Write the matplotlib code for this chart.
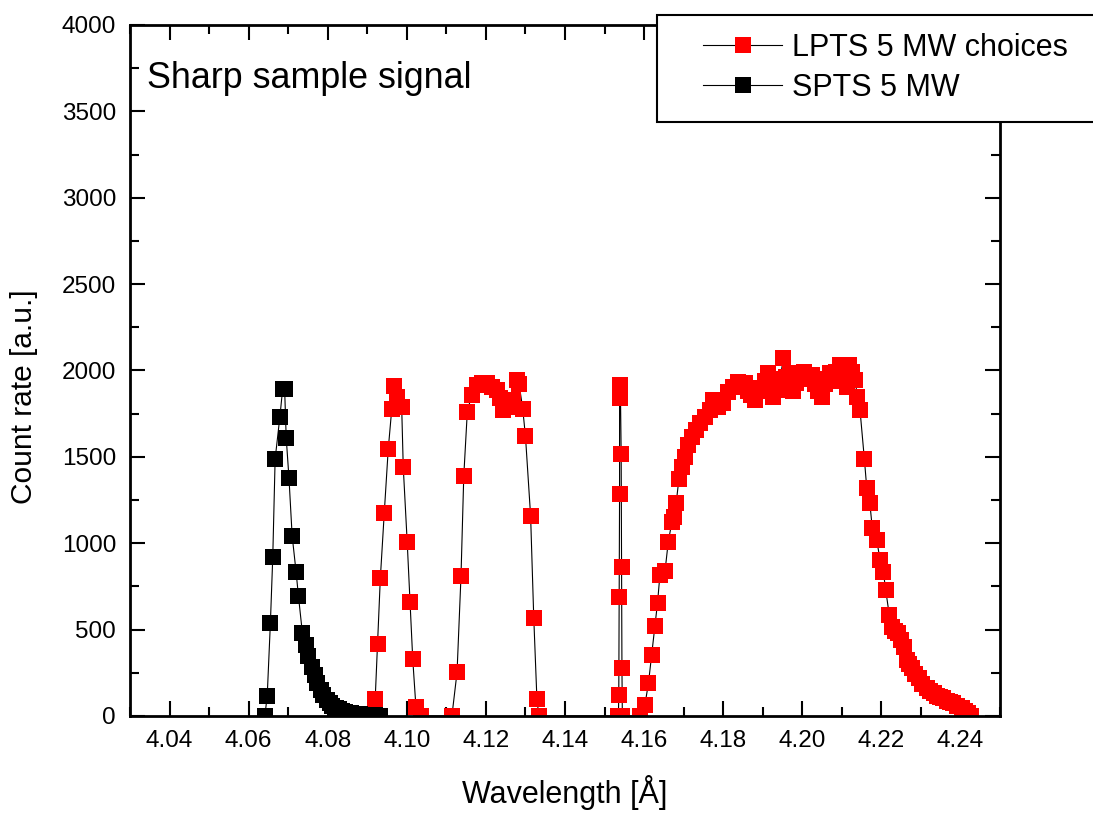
import matplotlib
matplotlib.use('Agg')
import matplotlib.pyplot as plt
from matplotlib.patches import Rectangle
from matplotlib.ticker import MultipleLocator, FormatStrFormatter

plt.rcParams['font.family'] = ['Liberation Sans', 'DejaVu Sans']

# LPTS 5 MW choices (red)
lpts_wl = [4.0920, 4.0926, 4.0933, 4.0943, 4.0953, 4.0962, 4.0967, 4.0974, 4.0987, 4.0991,
           4.1001, 4.1008, 4.1015, 4.1023, 4.1035,
           4.1114, 4.1127, 4.1137, 4.1144, 4.1153, 4.1164, 4.1177, 4.1189, 4.1202, 4.1215,
           4.1227, 4.1236, 4.1244, 4.1257, 4.1269, 4.1278, 4.1284, 4.1293, 4.1300, 4.1313,
           4.1321, 4.1329, 4.1334,
           4.1535, 4.1536, 4.1537, 4.1538, 4.1538, 4.1540, 4.1542, 4.1543, 4.1544, 4.1545,
           4.1590, 4.1602, 4.1611, 4.1619, 4.1627, 4.1634, 4.1640, 4.1653, 4.1661, 4.1670,
           4.1676, 4.1681, 4.1688, 4.1695, 4.1704, 4.1712, 4.1721, 4.1731, 4.1742, 4.1754,
           4.1767, 4.1775, 4.1788, 4.1800, 4.1813, 4.1826, 4.1838, 4.1855, 4.1863, 4.1870,
           4.1881, 4.1888, 4.1896, 4.1906, 4.1914, 4.1921, 4.1927, 4.1936, 4.1944, 4.1952,
           4.1960, 4.1969, 4.1977, 4.1985, 4.1994, 4.2005, 4.2015, 4.2024, 4.2032, 4.2040,
           4.2049, 4.2058, 4.2065, 4.2070, 4.2078, 4.2085, 4.2096, 4.2103, 4.2113, 4.2119,
           4.2126, 4.2134, 4.2139, 4.2146, 4.2157, 4.2163, 4.2171, 4.2177, 4.2188, 4.2197,
           4.2205, 4.2211, 4.2220, 4.2226, 4.2235, 4.2243, 4.2250, 4.2256, 4.2264, 4.2270,
           4.2277, 4.2285, 4.2294, 4.2303, 4.2315, 4.2323, 4.2332, 4.2341, 4.2348, 4.2357,
           4.2366, 4.2374, 4.2382, 4.2391, 4.2403, 4.2411, 4.2420, 4.2426]
lpts_counts = [97, 417, 797, 1177, 1544, 1779, 1910, 1845, 1790, 1440,
               1005, 662, 328, 54, 0,
               0, 253, 810, 1389, 1762, 1858, 1916, 1926, 1926, 1906,
               1887, 1839, 1771, 1790, 1829, 1945, 1920, 1780, 1620, 1160,
               569, 97, 0,
               0, 122, 691, 1285, 1839, 1916, 1517, 864, 276, 0,
               0, 64, 189, 353, 521, 656, 816, 841, 1005, 1121,
               1154, 1231, 1370, 1443, 1501, 1569, 1617, 1656, 1694, 1733,
               1771, 1829, 1790, 1810, 1877, 1906, 1935, 1926, 1880, 1860,
               1829, 1880, 1900, 1940, 1984, 1900, 1848, 1890, 1950, 2070,
               1960, 1984, 1880, 1930, 1960, 1990, 1950, 1974, 1920, 1880,
               1848, 1920, 1950, 1984, 1940, 1990, 2032, 1960, 1906, 2030,
               1990, 1945, 1848, 1771, 1488, 1322, 1231, 1087, 1019, 903,
               835, 729, 585, 517, 490, 479, 440, 401, 324, 300,
               276, 245, 218, 185, 160, 145, 131, 118, 108, 102,
               88, 80, 73, 60, 45, 30, 16, 0]

# SPTS 5 MW (black)
spts_wl = [4.0641, 4.0647, 4.0655, 4.0661, 4.0667, 4.0679, 4.0686, 4.0691, 4.0695, 4.0702,
           4.0710, 4.0720, 4.0726, 4.0736, 4.0744, 4.0751, 4.0759, 4.0767, 4.0774, 4.0782,
           4.0789, 4.0797, 4.0805, 4.0812, 4.0820, 4.0828, 4.0835, 4.0843, 4.0850, 4.0858,
           4.0866, 4.0873, 4.0881, 4.0888, 4.0896, 4.0904, 4.0911, 4.0919, 4.0926, 4.0932]
spts_counts = [0, 117, 538, 919, 1488, 1731, 1893, 1893, 1611, 1378,
               1044, 834, 693, 479, 410, 345, 285, 235, 190, 150,
               120, 95, 75, 60, 48, 38, 30, 25, 20, 16,
               13, 11, 9, 7, 6, 5, 4, 3, 2, 1]

fig = plt.figure(figsize=(10.93, 8.14), dpi=100)
ax = fig.add_axes([130/1093, 1-716/814, 870/1093, 691/814])

l1, = ax.plot(lpts_wl, lpts_counts, color='black', lw=0.8, marker='s', ms=11.5,
              mfc='#ff0000', mec='#ff0000', mew=0, label='LPTS 5 MW choices')
l2, = ax.plot(spts_wl, spts_counts, color='black', lw=0.8, marker='s', ms=11.5,
              mfc='black', mec='black', mew=0, label='SPTS 5 MW')

ax.set_xlim(4.03, 4.25)
ax.set_ylim(0, 4000)
ax.xaxis.set_major_locator(MultipleLocator(0.02))
ax.xaxis.set_minor_locator(MultipleLocator(0.01))
ax.xaxis.set_major_formatter(FormatStrFormatter('%.2f'))
ax.yaxis.set_major_locator(MultipleLocator(500))
ax.yaxis.set_minor_locator(MultipleLocator(250))
ax.tick_params(which='both', direction='in', top=True, right=True, width=1.5, labelsize=17.5)
ax.tick_params(which='major', length=10.8)
ax.tick_params(which='minor', length=6.5)
ax.tick_params(axis='x', pad=10)
ax.tick_params(axis='y', pad=10)
for s in ax.spines.values():
    s.set_linewidth(2)

ax.set_xlabel('Wavelength [Å]', fontsize=22)
ax.set_ylabel('Count rate [a.u.]', fontsize=21.5)
ax.xaxis.label.set_va('center')
ax.yaxis.label.set_va('center')
ax.xaxis.set_label_coords(0.5, (716-793)/691)
ax.yaxis.set_label_coords((24-130)/870, (716-397)/691)

ax.text((147-130)/870, (716-88)/691, 'Sharp sample signal', fontsize=25.8,
        transform=ax.transAxes, va='baseline', ha='left')

# legend box
fig.patches.append(Rectangle((657/1093, 1-122/814), 450/1093, 107/814,
                             transform=fig.transFigure, facecolor='white',
                             edgecolor='black', lw=1.5, zorder=3))
fig.legend(handles=[l1, l2], loc='upper left', bbox_to_anchor=(703/1093, 1-33/814),
           bbox_transform=fig.transFigure, frameon=False, fontsize=22,
           borderpad=0, borderaxespad=0, handlelength=2.6, handletextpad=0.3,
           labelspacing=0.32, numpoints=1)

fig.savefig('out.png', dpi=100)
